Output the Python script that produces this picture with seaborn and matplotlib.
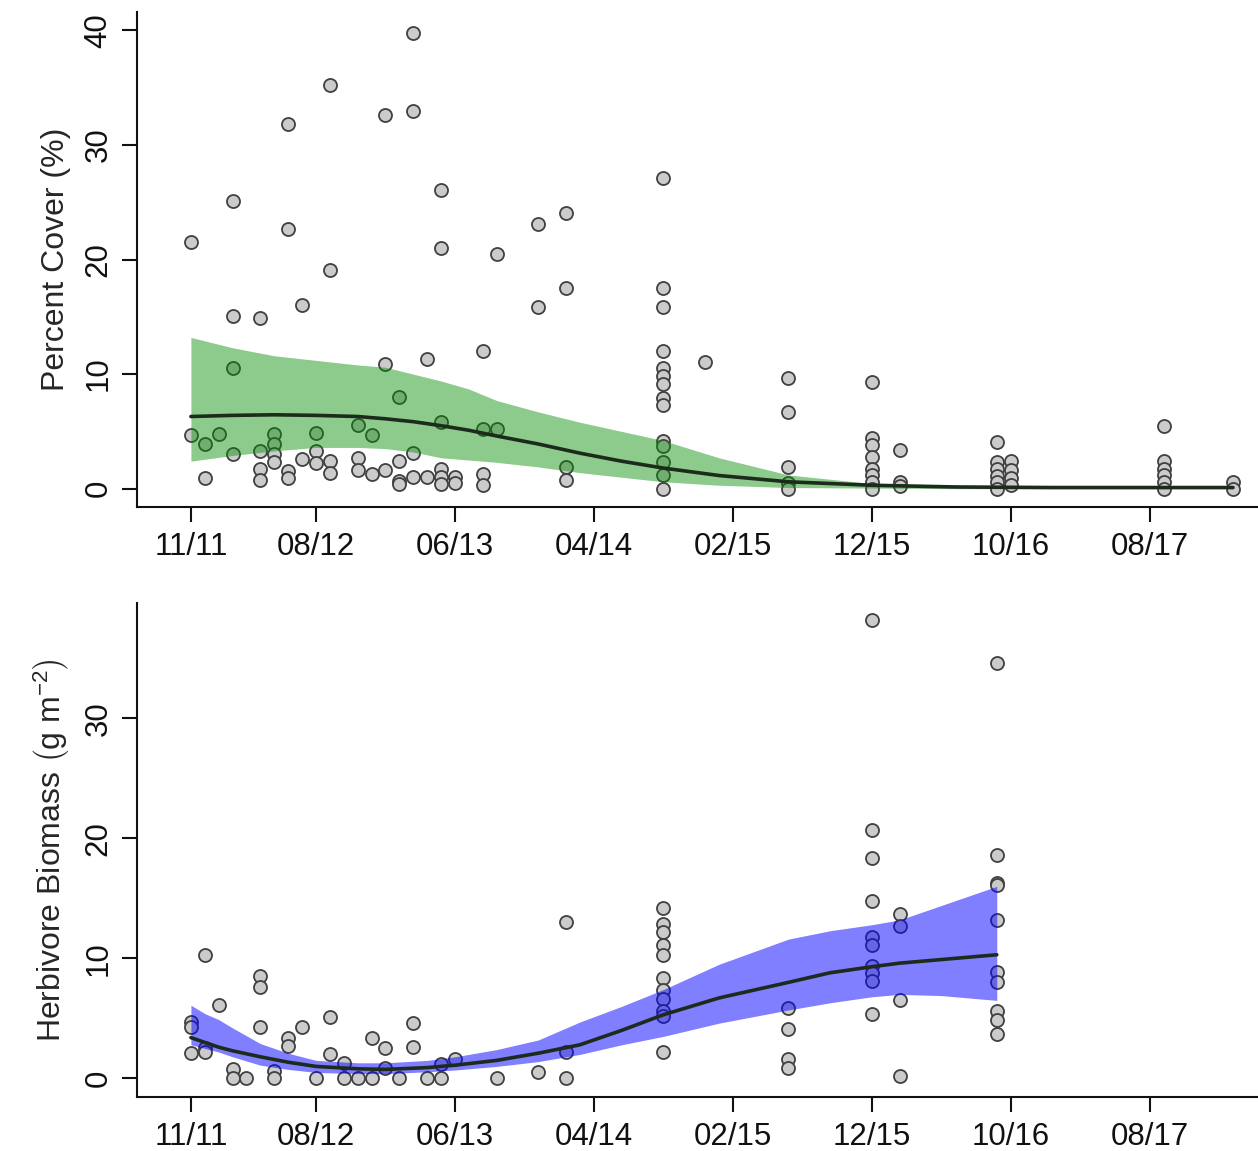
import numpy as np
import pandas as pd
import seaborn as sns
import matplotlib.pyplot as plt

# x = months after Nov 2011
tick_months = [0, 9, 19, 29, 39, 49, 59, 69]
tick_labels = ['11/11', '08/12', '06/13', '04/14', '02/15', '12/15', '10/16', '08/17']

# percent cover samples (month, value)
cover_month = [0, 0, 1, 1, 2, 3, 3, 3, 3, 5, 5, 5, 5, 6, 6, 6, 6,
               7, 7, 7, 7, 8, 8, 9, 9, 9, 10, 10, 10, 10, 12, 12, 12,
               13, 13, 14, 14, 14, 15, 15, 15, 15, 16, 16, 16, 16, 17, 17,
               18, 18, 18, 18, 18, 18, 19, 19, 21, 21, 21, 21, 22, 22,
               25, 25, 27, 27, 27, 27,
               34, 34, 34, 34, 34, 34, 34, 34, 34, 34, 34, 34, 34, 34,
               37, 43, 43, 43, 43, 43,
               49, 49, 49, 49, 49, 49, 49, 49, 51, 51, 51,
               58, 58, 58, 58, 58, 58, 59, 59, 59, 59,
               70, 70, 70, 70, 70, 70, 75, 75]
cover_value = [21.5, 4.7, 3.9, 0.9, 4.8, 25.1, 15.1, 10.5, 3.0, 14.9, 3.3, 1.7, 0.8, 4.8, 3.9, 3.0, 2.3,
               31.8, 22.7, 1.5, 0.9, 16.0, 2.6, 4.9, 3.3, 2.2, 35.2, 19.1, 2.4, 1.4, 5.6, 2.7, 1.6,
               4.7, 1.3, 32.6, 10.9, 1.6, 8.0, 2.4, 0.7, 0.4, 39.8, 33.0, 3.1, 1.0, 11.3, 1.0,
               26.1, 21.0, 5.8, 1.7, 1.0, 0.4, 1.0, 0.5, 12.0, 5.2, 1.3, 0.3, 20.5, 5.2,
               23.1, 15.9, 24.1, 17.5, 1.9, 0.8,
               27.1, 17.5, 15.9, 12.0, 10.5, 9.8, 9.1, 7.9, 7.3, 4.2, 3.7, 2.3, 1.2, 0.0,
               11.1, 9.7, 6.7, 1.9, 0.5, 0.0,
               9.3, 4.4, 3.8, 2.8, 1.7, 1.2, 0.6, 0.0, 3.4, 0.6, 0.2,
               4.1, 2.3, 1.7, 1.1, 0.6, 0.0, 2.4, 1.6, 0.9, 0.3,
               5.5, 2.4, 1.7, 1.2, 0.6, 0.0, 0.6, 0.0]

# herbivore biomass samples (month, value)
biomass_month = [0, 0, 0, 1, 1, 1, 2, 3, 3, 4, 5, 5, 5, 6, 6, 7, 7, 8, 9, 10, 10,
                 11, 11, 12, 13, 13, 14, 14, 15, 16, 16, 17, 18, 18, 19, 22, 25,
                 27, 27, 27,
                 34, 34, 34, 34, 34, 34, 34, 34, 34, 34, 34,
                 43, 43, 43, 43,
                 49, 49, 49, 49, 49, 49, 49, 49, 49, 49,
                 51, 51, 51, 51,
                 58, 58, 58, 58, 58, 58, 58, 58, 58, 58]
biomass_value = [4.7, 4.3, 2.1, 10.3, 2.5, 2.2, 6.1, 0.8, 0.0, 0.0, 8.5, 7.6, 4.3, 0.6, 0.0, 3.4, 2.7, 4.3, 0.0, 5.1, 2.0,
                 1.3, 0.0, 0.0, 3.4, 0.0, 2.5, 0.9, 0.0, 4.6, 2.6, 0.0, 1.2, 0.0, 1.6, 0.0, 0.5,
                 13.0, 2.2, 0.0,
                 14.2, 12.9, 12.2, 11.1, 10.3, 8.4, 7.4, 6.6, 5.6, 5.2, 2.2,
                 5.9, 4.1, 1.6, 0.9,
                 38.2, 20.7, 18.4, 14.8, 11.8, 11.1, 9.4, 8.8, 8.1, 5.4,
                 13.7, 12.7, 6.5, 0.2,
                 34.6, 18.6, 16.3, 16.1, 13.2, 8.9, 8.0, 5.6, 4.9, 3.7]

# smoothed fits with confidence bands
cover_fit_month = [0, 3, 6, 9, 12, 14, 16, 18, 20, 22, 25, 28, 31, 34, 38, 43, 49, 55, 62, 70, 75]
cover_fit = [6.3, 6.4, 6.45, 6.4, 6.3, 6.1, 5.85, 5.5, 5.1, 4.6, 3.9, 3.1, 2.4, 1.8, 1.15, 0.6, 0.3, 0.15, 0.1, 0.1, 0.1]
cover_hi = [13.2, 12.3, 11.6, 11.2, 10.8, 10.6, 10.0, 9.4, 8.7, 7.7, 6.7, 5.8, 5.0, 4.2, 2.7, 1.2, 0.45, 0.25, 0.2, 0.2, 0.2]
cover_lo = [2.4, 2.9, 3.3, 3.6, 3.6, 3.5, 3.2, 2.7, 2.5, 2.3, 1.9, 1.4, 1.0, 0.6, 0.3, 0.1, 0.05, 0.0, 0.0, 0.0, 0.0]

biomass_fit_month = [0, 1, 2, 3, 5, 7, 9, 12, 14, 17, 19, 22, 25, 28, 31, 34, 38, 43, 46, 49, 51, 54, 58]
biomass_fit = [3.4, 3.0, 2.6, 2.3, 1.8, 1.35, 1.0, 0.8, 0.75, 0.9, 1.1, 1.5, 2.1, 2.8, 4.0, 5.3, 6.7, 8.0, 8.8, 9.3, 9.6, 9.9, 10.3]
biomass_hi = [6.1, 5.4, 4.9, 4.2, 2.9, 2.1, 1.5, 1.3, 1.3, 1.5, 1.8, 2.4, 3.2, 4.7, 6.0, 7.4, 9.5, 11.6, 12.3, 12.8, 13.2, 14.4, 16.0]
biomass_lo = [2.8, 2.5, 2.2, 1.8, 1.1, 0.75, 0.5, 0.4, 0.4, 0.55, 0.7, 1.0, 1.4, 2.0, 2.8, 3.5, 4.6, 5.7, 6.3, 6.8, 7.0, 6.9, 6.5]

sns.set_style('ticks')
plt.rcParams['font.family'] = ['Liberation Sans', 'DejaVu Sans']
plt.rcParams['mathtext.fontset'] = 'custom'
plt.rcParams['mathtext.rm'] = 'Liberation Sans'
plt.rcParams['mathtext.it'] = 'Liberation Sans:italic'

df_cover = pd.DataFrame({'month': cover_month, 'value': cover_value})
df_biomass = pd.DataFrame({'month': biomass_month, 'value': biomass_value})
df_cover_fit = pd.DataFrame({'month': cover_fit_month, 'fit': cover_fit, 'lo': cover_lo, 'hi': cover_hi})
df_biomass_fit = pd.DataFrame({'month': biomass_fit_month, 'fit': biomass_fit, 'lo': biomass_lo, 'hi': biomass_hi})

fig = plt.figure(figsize=(12.58, 11.51), dpi=100)
ax1 = fig.add_axes([0.1089, 0.5595, 0.8911, 0.4300])
ax2 = fig.add_axes([0.1089, 0.0469, 0.8911, 0.4292])


def draw_panel(ax, pts, fit, band_color, band_alpha, ylim, yticks, ylabel):
    sns.scatterplot(data=pts, x='month', y='value', ax=ax, s=88, color='#cbcbcb',
                    edgecolor='#404040', linewidth=1.3, zorder=1, legend=False)
    ax.fill_between(fit['month'], fit['lo'], fit['hi'], color=band_color,
                    alpha=band_alpha, linewidth=0, zorder=2)
    sns.lineplot(data=fit, x='month', y='fit', ax=ax, color='#1c2b1c', linewidth=2.6, zorder=3)
    ax.set_xlim(-3.88, 76.8)
    ax.set_ylim(*ylim)
    ax.set_xticks(tick_months)
    ax.set_xticklabels(tick_labels)
    ax.set_yticks(yticks)
    ax.set_yticklabels([str(t) for t in yticks], rotation=90, va='center')
    ax.tick_params(direction='out', length=11, width=1.5, labelsize=22.5, colors='#111111')
    ax.tick_params(axis='x', pad=7)
    ax.tick_params(axis='y', pad=6)
    ax.set_xlabel('')
    ax.set_ylabel(ylabel, fontsize=23, labelpad=9)
    for side in ['top', 'right']:
        ax.spines[side].set_visible(False)
    for side in ['left', 'bottom']:
        ax.spines[side].set_linewidth(1.5)
        ax.spines[side].set_color('#111111')


draw_panel(ax1, df_cover, df_cover_fit, (0.0, 0.55, 0.0), 0.45, (-1.6, 41.6),
           [0, 10, 20, 30, 40], 'Percent Cover (%)')
draw_panel(ax2, df_biomass, df_biomass_fit, 'blue', 0.5, (-1.55, 39.6),
           [0, 10, 20, 30], r'Herbivore Biomass $\left(\mathrm{g\ m^{-2}_{\,}}\right)$')

fig.savefig('out.png', dpi=100)
